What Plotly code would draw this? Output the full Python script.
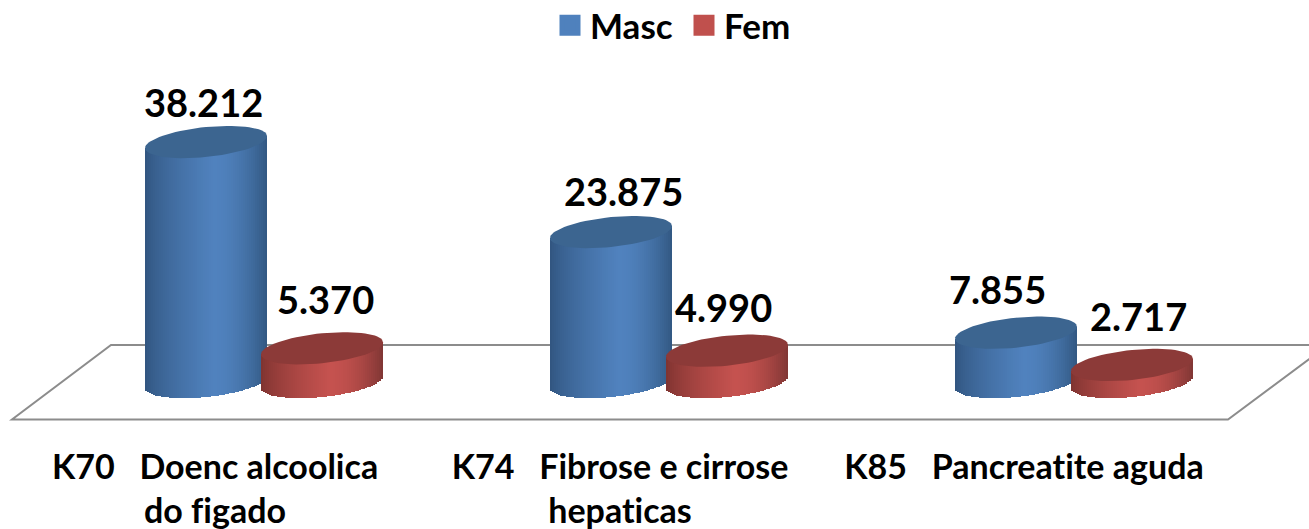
import math
import plotly.graph_objects as go

# ---- data ----
categories = ["K70   Doenc alcoolica<br>do figado",
              "K74   Fibrose e cirrose<br>hepaticas",
              "K85   Pancreatite aguda"]
series_names = ["Masc", "Fem"]
masc = [38212, 23875, 7855]
fem = [5370, 4990, 2717]

# ---- layout constants (pixels) ----
W, H = 1309, 529
PLOT_BOTTOM = 444
BASE_PX = 382          # pixel row of value 0
GROUP0_PX = 264
GROUP_STEP = 405
PX_PER_UNIT = 0.00628  # pixels per data unit
OFFSET = 58 / GROUP_STEP
RX = 61 / GROUP_STEP
B, S = 15.0, 6.0       # ellipse half height and tilt, pixels
FONT = "Lato"
STRIPS = 61


def xp(px):
    return (px - GROUP0_PX) / GROUP_STEP


def yp(py):
    return (BASE_PX - py) / PX_PER_UNIT


def lerp_color(c1, c2, f):
    return "rgb(%d,%d,%d)" % tuple(round(a + (b - a) * f) for a, b in zip(c1, c2))


def shade(u, edge_l, mid, edge_r, peak=0.12):
    if u < peak:
        f = (u + 1) / (peak + 1)
        return lerp_color(edge_l, mid, f ** 0.7)
    f = (u - peak) / (1 - peak)
    return lerp_color(mid, edge_r, f ** 1.8)


STYLES = {
    "Masc": dict(mid=(80, 130, 190), l=(48, 84, 126), r=(50, 88, 130),
                 cap="#3c6590", legend="#4f81bd", off=-OFFSET),
    "Fem": dict(mid=(197, 82, 79), l=(124, 50, 47), r=(128, 54, 52),
                cap="#8c3a38", legend="#c0504d", off=OFFSET),
}

fig = go.Figure()

# cylinder bodies: strips drawn by the bar renderer, one cylinder at a time
for g in range(len(masc)):
    for name, vals in zip(series_names, (masc, fem)):
        st = STYLES[name]
        cx = g + st["off"]
        v = vals[g]
        xs, bases, heights, colors = [], [], [], []
        for j in range(STRIPS):
            u = -1 + (2 * j + 1) / STRIPS
            rt = math.sqrt(max(0, 1 - u * u))
            base = -(B * rt - S * u) / PX_PER_UNIT
            top = v + S * u / PX_PER_UNIT
            xs.append(cx + RX * u)
            bases.append(base)
            heights.append(top - base)
            colors.append(shade(u, st["l"], st["mid"], st["r"]))
        fig.add_trace(go.Bar(x=xs, y=heights, base=bases,
                             width=[2 * RX / STRIPS * 1.35] * STRIPS,
                             marker=dict(color=colors, line=dict(width=0)),
                             showlegend=False, hoverinfo="skip"))

# cylinder caps
for g in range(len(masc)):
    for name, vals in zip(series_names, (masc, fem)):
        st = STYLES[name]
        cx = g + st["off"]
        v = vals[g]
        ex, ey = [], []
        for d in range(0, 361, 5):
            t = math.radians(d)
            ex.append(cx + RX * math.cos(t))
            ey.append(v + (S * math.cos(t) + B * math.sin(t)) / PX_PER_UNIT)
        fig.add_trace(go.Scatter(x=ex, y=ey, mode="lines", fill="toself",
                                 fillcolor=st["cap"], line=dict(width=0),
                                 showlegend=False, hoverinfo="skip"))

# legend entries
for name in series_names:
    c = STYLES[name]["legend"]
    fig.add_trace(go.Scatter(x=[None], y=[None], mode="markers", name=name,
                             marker=dict(symbol="square", size=16, color=c,
                                         line=dict(width=5, color=c))))

# value labels
label_shift = {
    "Masc": [(-3, 40), (12, 41), (-19, 44)],
    "Fem": [(3, 49), (-4, 44), (6, 49)],
}
annotations = []
for name, vals in zip(series_names, (masc, fem)):
    for g, v in enumerate(vals):
        dx, dy = label_shift[name][g]
        annotations.append(dict(x=g + STYLES[name]["off"], y=v, xref="x", yref="y",
                                xshift=dx, yshift=dy, showarrow=False,
                                text=f"{v:,}".replace(",", "."),
                                font=dict(family=FONT, size=38, color="black", weight="bold")))

# floor outline
floor = [(1320, 345), (111, 345), (12, 419.5), (1228, 419.5), (1320, 351)]
floor_path = "M " + " L ".join(f"{xp(a)},{yp(b)}" for a, b in floor)

fig.update_layout(
    width=W, height=H,
    margin=dict(l=0, r=0, t=0, b=H - PLOT_BOTTOM, pad=0, autoexpand=False),
    paper_bgcolor="white", plot_bgcolor="white",
    barmode="overlay", bargap=0,
    xaxis=dict(range=[xp(0), xp(W)], showgrid=False, zeroline=False, showline=False,
               automargin=False,
               tickmode="array", tickvals=[xp(215), xp(620), xp(1024)],
               ticktext=[c.replace("   ", "\u00a0\u00a0\u00a0") for c in categories],
               ticks="", ticklen=0,
               tickfont=dict(family=FONT, size=34, color="black", weight="bold")),
    yaxis=dict(range=[yp(PLOT_BOTTOM), yp(0)], visible=False, automargin=False),
    shapes=[dict(type="path", path=floor_path, xref="x", yref="y", layer="below",
                 line=dict(color="#8c8c8c", width=2))],
    annotations=annotations,
    legend=dict(orientation="h", x=550 / W, xanchor="left", y=1 + 4 / PLOT_BOTTOM, yanchor="top",
                entrywidth=89, entrywidthmode="pixels",
                font=dict(family=FONT, size=35, color="black", weight="bold"),
                bgcolor="rgba(0,0,0,0)"),
)

fig.write_html("out.html", config={"displayModeBar": False},
               post_script="document.body.style.margin='0';"
                           "var s=document.createElement('style');"
                           "s.textContent='text{font-variant-ligatures:none !important}';"
                           "document.head.appendChild(s);")
